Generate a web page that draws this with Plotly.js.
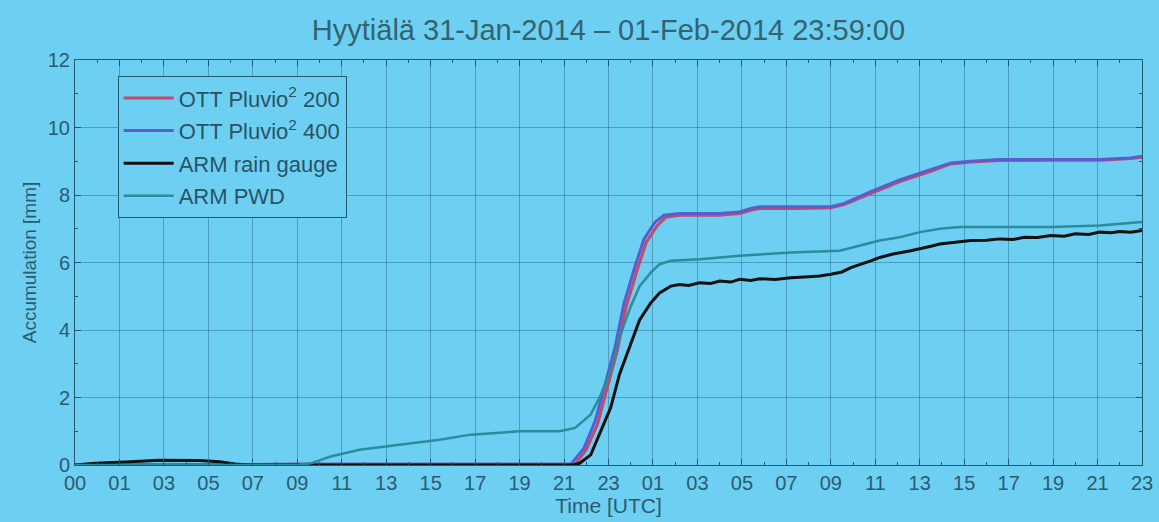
<!DOCTYPE html>
<html>
<head>
<meta charset="utf-8">
<script src="https://cdn.plot.ly/plotly-3.0.1.min.js"></script>
<style>html,body{margin:0;padding:0;background:#6dcff2;}#chart{width:1159px;height:522px;}</style>
</head>
<body>
<div id="chart"></div>
<script>
// x values: hours from the left edge of the time axis
const tickVals = [0,2,4,6,8,10,12,14,16,18,20,22,24,26,28,30,32,34,36,38,40,42,44,46,48];
const tickLabels = ["00","01","03","05","07","09","11","13","15","17","19","21","23","01","03","05","07","09","11","13","15","17","19","21","23"];

const pluvio200X = [0,10,22.5,23.0,23.5,23.9,24.4,24.8,25.3,25.7,26.2,26.6,27.2,29.0,29.9,30.4,30.8,32.6,34.0,34.6,35.8,37.1,38.5,39.4,40.3,41.6,44.0,46.1,47.5,48.0];
const pluvio200Y = [0,0.02,0.02,0.45,1.2,2.2,3.4,4.7,5.8,6.6,7.1,7.35,7.4,7.4,7.45,7.55,7.6,7.6,7.62,7.72,8.05,8.4,8.7,8.92,8.98,9.02,9.03,9.03,9.08,9.12];

const pluvio400X = [0,10,22.3,22.9,23.4,23.8,24.3,24.7,25.2,25.6,26.1,26.5,27.2,29.0,29.9,30.4,30.8,32.6,34.0,34.6,35.8,37.1,38.5,39.4,40.3,41.6,44.0,46.1,47.5,48.0];
const pluvio400Y = [0,0.02,0.02,0.5,1.3,2.3,3.5,4.8,5.9,6.7,7.2,7.4,7.45,7.45,7.5,7.6,7.65,7.65,7.65,7.75,8.1,8.45,8.75,8.95,9.0,9.05,9.05,9.05,9.1,9.15];

const armGaugeX = [0,0.9,2.5,3.8,5.6,6.5,7.2,7.9,22.4,22.7,23.2,23.6,24.1,24.5,25.0,25.4,25.9,26.3,26.8,27.2,27.6,28.1,28.6,29.0,29.5,29.9,30.4,30.8,31.5,32.2,33.0,33.5,34.0,34.5,34.9,35.4,35.8,36.2,36.8,37.6,38.0,38.5,38.9,39.4,39.8,40.3,41.0,41.6,42.2,42.7,43.3,43.9,44.5,45.0,45.6,46.1,46.6,47.0,47.5,48.0];
const armGaugeY = [0,0.05,0.1,0.14,0.13,0.1,0.03,0,0,0.05,0.3,0.9,1.7,2.7,3.6,4.3,4.8,5.1,5.3,5.35,5.32,5.4,5.38,5.45,5.42,5.5,5.47,5.52,5.5,5.55,5.58,5.6,5.65,5.72,5.85,5.95,6.05,6.15,6.25,6.35,6.4,6.48,6.55,6.58,6.6,6.65,6.66,6.7,6.68,6.75,6.74,6.8,6.78,6.85,6.83,6.9,6.88,6.92,6.9,6.95];

const armPwdX = [0,10.0,10.6,11.5,12.8,14.6,16.4,17.8,19.1,20.0,21.8,22.5,23.2,23.6,24.1,24.5,25.0,25.4,25.9,26.3,26.8,28.1,29.9,32.2,34.4,35.3,36.2,37.1,38.0,38.9,39.8,41.6,43.9,46.1,48.0];
const armPwdY = [0,0,0.05,0.25,0.45,0.6,0.75,0.9,0.97,1.0,1.0,1.1,1.5,2.0,2.8,3.8,4.7,5.3,5.7,5.95,6.05,6.1,6.2,6.3,6.35,6.5,6.65,6.75,6.9,7.0,7.05,7.05,7.05,7.1,7.2];

const bg = '#6dcff2';
const axisColor = '#1f5a70';
const textColor = '#2a5c70';
const fontFam = 'Liberation Sans, Arial, sans-serif';

const traces = [
  {x: pluvio200X, y: pluvio200Y, name: 'OTT Pluvio<sup>2</sup> 200', legendgroup: 'a', mode: 'lines', line: {color: '#c24a6a', width: 3}},
  {x: pluvio400X, y: pluvio400Y, name: 'OTT Pluvio<sup>2</sup> 400', legendgroup: 'b', mode: 'lines', line: {color: '#5a5ccf', width: 3}},
  {x: armGaugeX, y: armGaugeY, name: 'ARM rain gauge', legendgroup: 'c', mode: 'lines', line: {color: '#111111', width: 3}},
  {x: armPwdX, y: armPwdY, name: 'ARM PWD', legendgroup: 'd', mode: 'lines', line: {color: '#2a8c9e', width: 2.5}}
];

const layout = {
  width: 1159, height: 522,
  paper_bgcolor: bg, plot_bgcolor: bg,
  margin: {l: 75, r: 17, t: 60, b: 57},
  font: {family: fontFam, color: textColor, size: 17},
  title: {text: 'Hyytiälä 31-Jan-2014 – 01-Feb-2014 23:59:00', x: 0.525, xanchor: 'center', y: 0.943, yanchor: 'middle', yref: 'container',
          font: {family: fontFam, size: 29, color: '#34636f'}},
  xaxis: {
    range: [0, 48], tickmode: 'array', tickvals: tickVals, ticktext: tickLabels,
    showline: true, linecolor: axisColor, linewidth: 1, mirror: 'ticks',
    ticks: 'inside', ticklen: 6, tickcolor: axisColor,
    showgrid: true, gridcolor: 'rgba(25,85,110,0.4)', gridwidth: 1,
    zeroline: false,
    minor: {ticks: 'inside', ticklen: 3, dtick: 1, tick0: 0, tickcolor: axisColor, showgrid: false},
    tickfont: {size: 20, color: textColor},
    title: {text: 'Time [UTC]', font: {size: 21, color: textColor}, standoff: 0}
  },
  yaxis: {
    range: [0, 12], tickmode: 'array', tickvals: [0,2,4,6,8,10,12],
    showline: true, linecolor: axisColor, linewidth: 1, mirror: 'ticks',
    ticks: 'inside', ticklen: 6, tickcolor: axisColor,
    showgrid: true, gridcolor: 'rgba(25,85,110,0.4)', gridwidth: 1,
    zeroline: false,
    minor: {ticks: 'inside', ticklen: 3, dtick: 1, tick0: 0, tickcolor: axisColor, showgrid: false},
    tickfont: {size: 20, color: textColor},
    title: {text: 'Accumulation [mm]', font: {size: 19, color: textColor}, standoff: 6}
  },
  legend: {
    x: 0.04, y: 0.96, xanchor: 'left', yanchor: 'top',
    bgcolor: bg, bordercolor: axisColor, borderwidth: 1,
    font: {size: 22, color: '#285466'}, itemwidth: 50, tracegroupgap: 1
  },
  showlegend: true
};

Plotly.newPlot('chart', traces, layout, {displayModeBar: false, staticPlot: true});
</script>
</body>
</html>
